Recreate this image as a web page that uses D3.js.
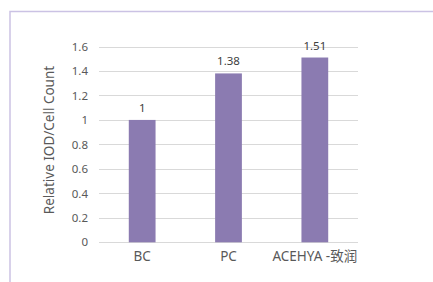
<!DOCTYPE html>
<html>
<head>
<meta charset="utf-8">
<script src="https://cdn.jsdelivr.net/npm/d3@7"></script>
<style>
  body { margin: 0; background: #fff; }
  svg { display: block; }
</style>
</head>
<body>
<script>
var categories = ["BC", "PC", "ACEHYA -致润"];
var values = [1, 1.38, 1.51];
var yTicks = [0, 0.2, 0.4, 0.6, 0.8, 1, 1.2, 1.4, 1.6];

var w = 433;
var h = 282;
var font = "'Noto Sans', 'Noto Sans CJK SC', sans-serif";

var svg = d3.select("body").append("svg")
	.attr("width", w)
	.attr("height", h);

// outer frame (runs off the right and bottom)
svg.append("path")
	.attr("d", "M10,300 L10,11.5 L440,11.5")
	.attr("fill", "none")
	.attr("stroke", "#cbc2e4")
	.attr("stroke-width", 1.5);

var x = d3.scaleBand()
	.domain(categories)
	.range([99, 358])
	.paddingInner(0.69)
	.paddingOuter(0.345);

var y = d3.scaleLinear()
	.domain([0, 1.6])
	.range([242.3, 46.5]);

// gridlines
svg.append("g")
	.selectAll("line")
	.data(yTicks)
	.enter()
	.append("line")
	.attr("x1", 99)
	.attr("x2", 358)
	.attr("y1", function(d) { return Math.round(y(d)) + 0.5; })
	.attr("y2", function(d) { return Math.round(y(d)) + 0.5; })
	.attr("stroke", "#d9d9d9")
	.attr("stroke-width", 1.2);

// y axis labels
var yAxis = d3.axisLeft(y)
	.tickValues(yTicks)
	.tickSize(0)
	.tickPadding(0)
	.tickFormat(function(d) { return d3.format("")(+d.toFixed(1)); });

var gy = svg.append("g")
	.attr("transform", "translate(88,0)")
	.call(yAxis);
gy.select(".domain").remove();
gy.selectAll("text")
	.attr("font-family", font)
	.attr("font-size", "11.5px")
	.attr("fill", "#595959");

// bars
svg.append("g")
	.selectAll("rect")
	.data(values)
	.enter()
	.append("rect")
	.attr("x", function(d, i) { return x(categories[i]); })
	.attr("y", function(d) { return y(d); })
	.attr("width", x.bandwidth())
	.attr("height", function(d) { return y(0) - y(d); })
	.attr("fill", "#8b7bb1");

// value labels
svg.append("g")
	.selectAll("text")
	.data(values)
	.enter()
	.append("text")
	.text(function(d) { return d; })
	.attr("x", function(d, i) { return x(categories[i]) + x.bandwidth() / 2; })
	.attr("y", function(d) { return y(d) - 8; })
	.attr("text-anchor", "middle")
	.attr("font-family", font)
	.attr("font-size", "11.5px")
	.attr("fill", "#404040");

// x axis labels
var xAxis = d3.axisBottom(x).tickSize(0).tickPadding(0);
var gx = svg.append("g")
	.attr("transform", "translate(0,251)")
	.call(xAxis);
gx.select(".domain").remove();
gx.selectAll("text")
	.attr("font-family", font)
	.attr("font-size", "13.5px")
	.attr("fill", "#595959");

// y axis title
svg.append("text")
	.attr("transform", "translate(54,140) rotate(-90)")
	.attr("text-anchor", "middle")
	.attr("font-family", font)
	.attr("font-size", "13.5px")
	.attr("fill", "#595959")
	.text("Relative IOD/Cell Count");
</script>
</body>
</html>
